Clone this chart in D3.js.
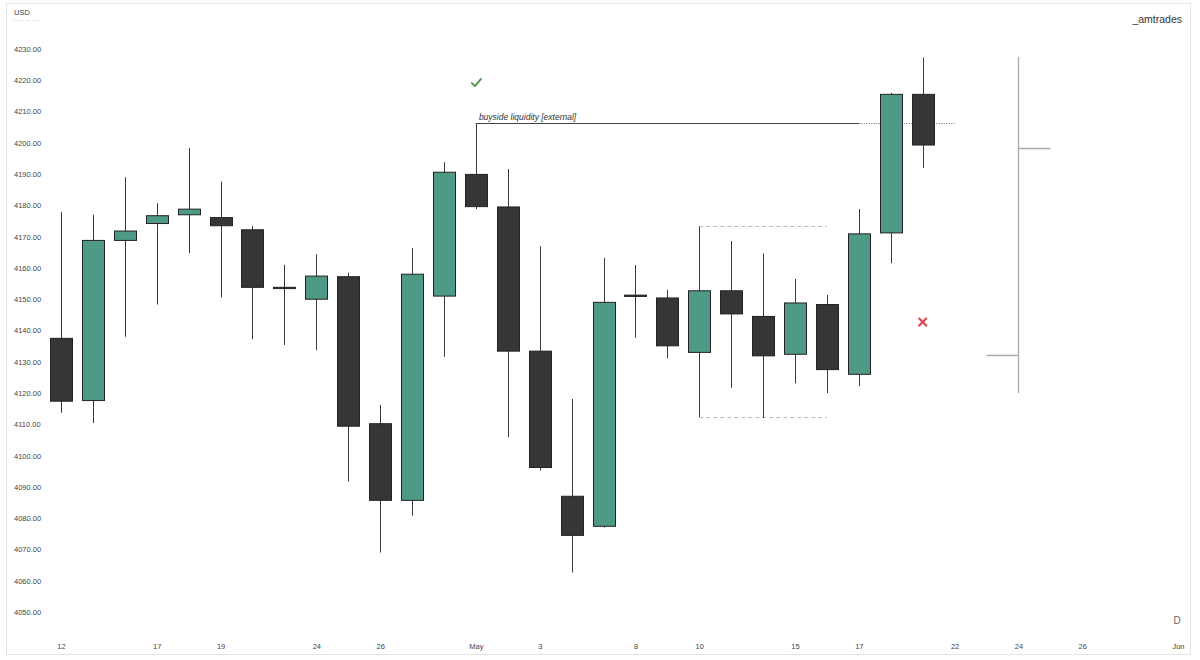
<!DOCTYPE html>
<html>
<head>
<meta charset="utf-8">
<script src="https://cdn.jsdelivr.net/npm/d3@7"></script>
<style>
  html, body { margin: 0; padding: 0; background: #fff; }
  text { font-family: "Liberation Sans", Arial, sans-serif; }
</style>
</head>
<body>
<div id="chart"></div>
<script>
// Trading days shown on the axis (index = slot)
var days = ["Apr12","Apr13","Apr14","Apr17","Apr18","Apr19","Apr20","Apr21","Apr24","Apr25","Apr26","Apr27","Apr28",
            "May1","May2","May3","May4","May5","May8","May9","May10","May11","May12","May15","May16","May17","May18","May19",
            "May22","May23","May24","May25","May26","May30","May31","Jun1"];

// Daily candles (first 28 days)
var opens  = [4137.5,4117.6,4168.8,4174.2,4177.0,4176.1,4172.2,4153.8,4150.0,4157.2,4110.2,4085.7,4151.0,
              4189.9,4179.5,4133.4,4087.0,4077.4,4151.3,4150.4,4133.0,4152.7,4144.5,4132.4,4148.3,4126.0,4171.2,4215.5];
var highs  = [4177.8,4177.0,4189.0,4180.7,4198.3,4187.6,4173.4,4161.0,4164.4,4158.5,4116.2,4166.4,4193.8,
              4206.3,4191.6,4166.9,4118.1,4163.2,4160.9,4153.0,4173.3,4168.6,4164.6,4156.5,4151.4,4178.8,4216.0,4227.3];
var lows   = [4113.7,4110.4,4138.0,4148.3,4164.7,4150.6,4137.2,4135.4,4133.7,4091.7,4069.0,4080.8,4131.6,
              4178.8,4105.9,4095.2,4062.6,4077.0,4137.7,4131.1,4112.3,4121.7,4112.0,4123.1,4120.0,4122.2,4161.5,4191.9];
var closes = [4117.4,4168.8,4171.8,4176.7,4178.8,4173.5,4153.8,4153.4,4157.4,4109.4,4085.7,4158.0,4190.6,
              4179.6,4133.4,4096.2,4074.5,4149.0,4150.9,4135.1,4152.7,4145.3,4131.9,4148.8,4127.5,4170.9,4215.5,4199.3];

// Higher-timeframe OHLC bar drawn on the right
var weekBar = {day: "May24", open: 4132.2, high: 4227.5, low: 4120.0, close: 4198.5};

// Axis ticks
var yTicks = [4050,4060,4070,4080,4090,4100,4110,4120,4130,4140,4150,4160,4170,4180,4190,4200,4210,4220,4230];
var xTickDays   = ["Apr12","Apr17","Apr19","Apr24","Apr26","May1","May3","May8","May10","May15","May17","May22","May24","May26","Jun1"];
var xTickLabels = ["12","17","19","24","26","May","3","8","10","15","17","22","24","26","Jun"];

// Annotations
var liquidityLevel = 4206.3;
var rangeHigh = 4173.3, rangeLow = 4112.3;

var width = 1200, height = 660;

var x = d3.scalePoint().domain(days).range([61, 1178]);
var y = d3.scaleLinear().domain([4050, 4230]).range([612, 49]);

var candles = days.slice(0, opens.length).map(function(d, i) {
    return {day: d, open: opens[i], high: highs[i], low: lows[i], close: closes[i]};
});

var svg = d3.select("#chart").append("svg")
    .attr("width", width)
    .attr("height", height);

// Frame
svg.append("rect")
    .attr("x", 6.5).attr("y", 3.5)
    .attr("width", 1184).attr("height", 651)
    .attr("fill", "none")
    .attr("stroke", "#e4e4e4");

// Currency label
svg.append("text")
    .attr("x", 14).attr("y", 15)
    .attr("font-size", 7.5).attr("fill", "#444")
    .text("USD");
svg.append("line")
    .attr("x1", 14).attr("x2", 40).attr("y1", 20.5).attr("y2", 20.5)
    .attr("stroke", "#ccc").attr("stroke-dasharray", "1,2");

// Y axis labels
var yAxis = d3.axisLeft(y).tickValues(yTicks).tickSize(0)
    .tickFormat(function(d) { return d.toFixed(2); });
var yg = svg.append("g")
    .attr("transform", "translate(14,0)")
    .call(yAxis);
yg.select(".domain").remove();
yg.selectAll("text")
    .attr("x", 0).attr("text-anchor", "start")
    .attr("font-size", 7.5).attr("fill", "#444")
    .attr("font-family", "Liberation Sans, Arial, sans-serif");

// X axis labels
var xAxis = d3.axisBottom(x).tickValues(xTickDays).tickSize(0)
    .tickFormat(function(d) { return xTickLabels[xTickDays.indexOf(d)]; });
var xg = svg.append("g")
    .attr("transform", "translate(0,641)")
    .call(xAxis);
xg.select(".domain").remove();
xg.selectAll("text")
    .attr("font-size", 7.5).attr("fill", "#444")
    .attr("font-family", "Liberation Sans, Arial, sans-serif");

// Range lines (dashed)
[rangeHigh, rangeLow].forEach(function(v) {
    svg.append("line")
        .attr("x1", x("May10")).attr("x2", x("May16"))
        .attr("y1", Math.round(y(v)) + 0.5).attr("y2", Math.round(y(v)) + 0.5)
        .attr("stroke", "#bbb").attr("stroke-dasharray", "4,3");
});

// Buyside liquidity line
var ly = Math.round(y(liquidityLevel)) + 0.5;
svg.append("line")
    .attr("x1", x("May1")).attr("x2", x("May17"))
    .attr("y1", ly).attr("y2", ly)
    .attr("stroke", "#444");
svg.append("line")
    .attr("x1", x("May17")).attr("x2", x("May22"))
    .attr("y1", ly).attr("y2", ly)
    .attr("stroke", "#666").attr("stroke-dasharray", "1,1.5");
svg.append("text")
    .attr("x", x("May1") + 3).attr("y", ly - 4)
    .attr("font-size", 8.5).attr("font-style", "italic").attr("fill", "#333")
    .text("buyside liquidity [external]");

// Candles
var bw = 22;
var g = svg.append("g");
var c = g.selectAll("g.candle").data(candles).enter().append("g").attr("class", "candle");

c.append("line")
    .attr("x1", function(d) { return Math.round(x(d.day)) + 0.5; })
    .attr("x2", function(d) { return Math.round(x(d.day)) + 0.5; })
    .attr("y1", function(d) { return y(d.high); })
    .attr("y2", function(d) { return y(d.low); })
    .attr("stroke", "#3a3a3a");

c.append("rect")
    .attr("x", function(d) { return Math.round(x(d.day) - bw / 2) + 0.5; })
    .attr("y", function(d) { return y(Math.max(d.open, d.close)); })
    .attr("width", bw)
    .attr("height", function(d) { return Math.max(1, y(Math.min(d.open, d.close)) - y(Math.max(d.open, d.close))); })
    .attr("fill", function(d) { return d.close >= d.open ? "#4f9a86" : "#363638"; })
    .attr("stroke", "#222")
    .attr("stroke-width", 1);

// Higher-timeframe bar
var wx = Math.round(x(weekBar.day)) + 0.5;
var step = x.step();
svg.append("line")
    .attr("x1", wx).attr("x2", wx)
    .attr("y1", y(weekBar.high)).attr("y2", y(weekBar.low))
    .attr("stroke", "#aaa").attr("stroke-width", 1.3);
svg.append("line")
    .attr("x1", wx - step).attr("x2", wx)
    .attr("y1", Math.round(y(weekBar.open)) + 0.5).attr("y2", Math.round(y(weekBar.open)) + 0.5)
    .attr("stroke", "#aaa").attr("stroke-width", 1.3);
svg.append("line")
    .attr("x1", wx).attr("x2", wx + step)
    .attr("y1", Math.round(y(weekBar.close)) + 0.5).attr("y2", Math.round(y(weekBar.close)) + 0.5)
    .attr("stroke", "#aaa").attr("stroke-width", 1.3);

// Check mark above the May 1 high
var cx = x("May1"), cy = y(4219.1);
svg.append("path")
    .attr("d", "M" + (cx - 4) + "," + cy + " L" + (cx - 1) + "," + (cy + 3) + " L" + (cx + 5) + "," + (cy - 4))
    .attr("fill", "none").attr("stroke", "#4e9a4a").attr("stroke-width", 2)
    .attr("stroke-linecap", "round").attr("stroke-linejoin", "round");

// Cross mark
var xx = x("May19"), xy = y(4142.7);
svg.append("path")
    .attr("d", "M" + (xx - 3.5) + "," + (xy - 3.5) + " L" + (xx + 3.5) + "," + (xy + 3.5) +
               " M" + (xx + 3.5) + "," + (xy - 3.5) + " L" + (xx - 3.5) + "," + (xy + 3.5))
    .attr("fill", "none").attr("stroke", "#e0444e").attr("stroke-width", 2.2)
    .attr("stroke-linecap", "round");

// Watermark and timeframe
svg.append("text")
    .attr("x", 1182).attr("y", 23)
    .attr("text-anchor", "end")
    .attr("font-size", 10.5).attr("fill", "#333")
    .text("_amtrades");
svg.append("text")
    .attr("x", 1177).attr("y", 624)
    .attr("text-anchor", "middle")
    .attr("font-size", 10).attr("fill", "#666")
    .text("D");
</script>
</body>
</html>
